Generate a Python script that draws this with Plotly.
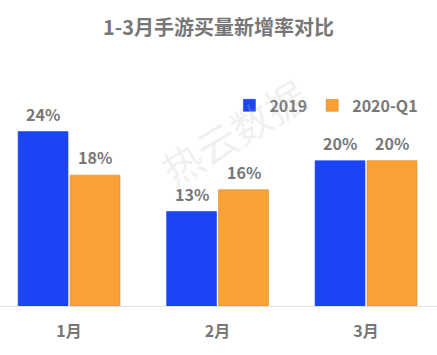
import plotly.graph_objects as go

title = "1-3月手游买量新增率对比"
categories = ["1月", "2月", "3月"]
series_names = ["2019", "2020-Q1"]
values_2019 = [24, 13, 20]
values_2020q1 = [18, 16, 20]
colors = ["#1b45f4", "#f9a134"]
line_colors = ["#1b45f4", "#d98a2a"]

xs = list(range(len(categories)))
fig = go.Figure()
for name, vals, c, lc in zip(series_names, [values_2019, values_2020q1], colors, line_colors):
    fig.add_trace(go.Bar(x=xs, y=vals, name=name, marker=dict(color=c, line=dict(color=lc, width=0.6))))

# value labels above bars
offs = [-0.175, 0.175]
for off, vals in zip(offs, [values_2019, values_2020q1]):
    for x, v in zip(xs, vals):
        fig.add_annotation(x=x + off, y=v, text=f"<b>{v}%</b>", showarrow=False, yanchor="bottom", yshift=4,
                           font=dict(size=16, color="#777777", family="Noto Sans CJK SC"), xref="x", yref="y")

# watermark
fig.add_annotation(x=0.533, y=0.80, xref="paper", yref="paper", xanchor="center", yanchor="middle",
                   text="热云数据", showarrow=False,
                   textangle=-31, font=dict(size=40, color="rgba(190,190,190,0.22)", family="Noto Sans CJK SC"))

fig.update_layout(
    width=437, height=355,
    margin=dict(l=0, r=0, t=88, b=49),
    paper_bgcolor="white", plot_bgcolor="white",
    barmode="group", bargap=0.3, bargroupgap=0.04,
    title=dict(text="<b>" + title + "</b>", x=0.5, xanchor="center", y=0.922, yanchor="middle",
               font=dict(size=20, color="#777777", family="Noto Sans CJK SC")),
    font=dict(family="Noto Sans CJK SC", color="#777777"),
    legend=dict(orientation="h", x=0.525, xanchor="left", y=0.92, yanchor="middle",
                font=dict(size=16, color="#777777", family="Noto Sans CJK SC", weight="bold"),
                itemwidth=30, bgcolor="rgba(0,0,0,0)", itemclick=False, tracegroupgap=0),
    showlegend=True,
)
fig.update_xaxes(tickmode="array", tickvals=xs, ticktext=["<b>" + c + "</b>" for c in categories],
                 range=[-0.465, 2.478], showgrid=False, zeroline=False, showline=True,
                 linecolor="#e2e2e2", linewidth=1, ticks="", tickfont=dict(size=16, color="#777777"),
                 ticklabelstandoff=11, fixedrange=True)
fig.update_yaxes(range=[0, 30], showgrid=False, zeroline=False, showticklabels=False, showline=False,
                 fixedrange=True)

fig.write_html("out.html", config={"displayModeBar": False},
               post_script="document.body.style.margin='0';document.body.style.padding='0';")
